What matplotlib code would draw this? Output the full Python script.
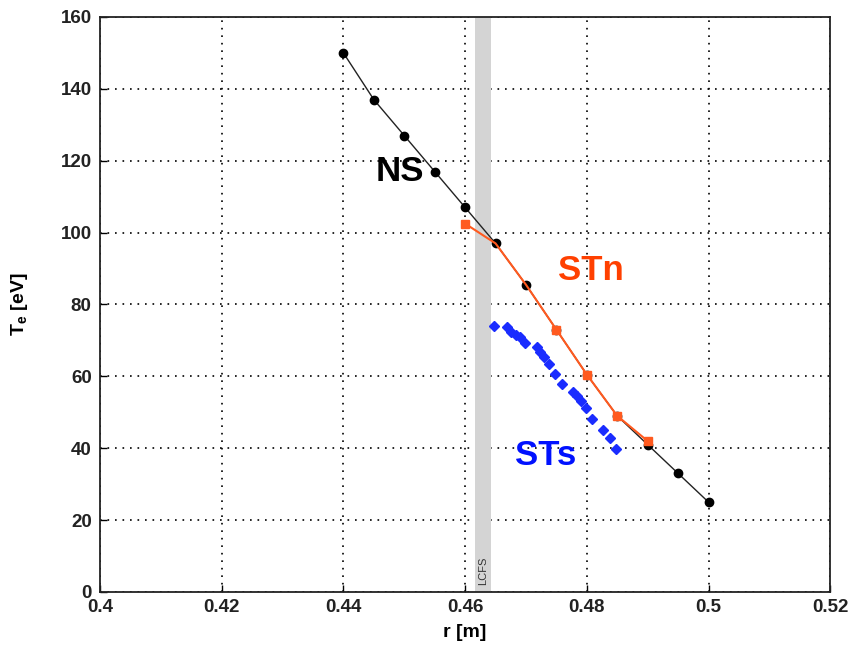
import numpy as np
import matplotlib.pyplot as plt

plt.rcParams['font.family'] = ['Liberation Sans', 'DejaVu Sans']

# NS profile (black circles)
ns_r = [0.44, 0.445, 0.45, 0.455, 0.46, 0.465, 0.47, 0.475, 0.48, 0.485, 0.49, 0.495, 0.50]
ns_te = [150, 137, 127, 117, 107, 97, 85.5, 73, 60.5, 49, 41, 33, 25]

# STn profile (orange squares)
stn_r = [0.46, 0.465, 0.47, 0.475, 0.48, 0.485, 0.49]
stn_te = [102.5, 97, 85.5, 73, 60.5, 49, 42]

# STs profile (blue diamonds)
sts_r = [0.4648, 0.4669, 0.4676, 0.4684, 0.4690, 0.4699, 0.4718, 0.4723, 0.4729, 0.4738,
         0.4748, 0.4759, 0.4777, 0.4784, 0.4790, 0.4798, 0.4809, 0.4827, 0.4838, 0.4848]
sts_te = [74.0, 73.6, 72.4, 71.5, 70.9, 69.2, 68.3, 66.9, 65.5, 63.4,
          60.7, 57.9, 55.7, 54.5, 53.2, 51.1, 48.1, 45.1, 42.8, 39.7]

lcfs = (0.4616, 0.4643)

fig = plt.figure(figsize=(8.55, 6.56), dpi=100)
ax = fig.add_axes([0.117, 0.0976, 0.854, 0.8765])

ax.axvspan(lcfs[0], lcfs[1], color='#d4d4d4', lw=0, zorder=1)
ax.text(sum(lcfs) / 2, 2, 'LCFS', rotation=90, ha='center', va='bottom',
        fontsize=8, color='#333333', zorder=2)

ax.plot(ns_r, ns_te, '-', color='#222222', lw=1.0, marker='o', ms=6,
        mfc='black', mec='black', zorder=3)
ax.plot(stn_r, stn_te, '-', color='#ff5a1f', lw=1.5, marker='s', ms=6,
        mfc='#ff5a1f', mec='#ff5a1f', markevery=[0, 3, 4, 5, 6], zorder=4)
ax.plot(sts_r, sts_te, 'D', color='#1a2cff', ms=5, mec='#1a2cff', zorder=4)

ax.text(0.4493, 117, 'NS', fontsize=25, fontweight='bold', color='black',
        ha='center', va='center', zorder=5)
ax.text(0.4806, 89.5, 'STn', fontsize=25, fontweight='bold', color='#ff4000',
        ha='center', va='center', zorder=5)
ax.text(0.4732, 38, 'STs', fontsize=25, fontweight='bold', color='#0011ff',
        ha='center', va='center', zorder=5)

ax.set_xlim(0.4, 0.52)
ax.set_ylim(0, 160)
ax.set_xticks(np.arange(0.4, 0.5201, 0.02))
ax.set_xticklabels(['0.4', '0.42', '0.44', '0.46', '0.48', '0.5', '0.52'])
ax.set_yticks(np.arange(0, 161, 20))
ax.grid(True, linestyle=(0, (1, 3.5)), color='black', lw=1.2, zorder=0)
ax.set_axisbelow(True)
ax.tick_params(direction='in', length=5, width=1, labelsize=13.5,
               top=False, right=False)
ax.tick_params(axis='x', pad=5)
ax.tick_params(axis='y', pad=6)
for lbl in ax.get_xticklabels() + ax.get_yticklabels():
    lbl.set_fontweight('bold')
    lbl.set_color('#222222')
for sp in ax.spines.values():
    sp.set_linewidth(1.3)
    sp.set_color('#222222')

ax.set_xlabel('r [m]', fontsize=14, fontweight='bold', labelpad=6)
ax.set_ylabel(r'T$_\mathregular{e}$ [eV]', fontsize=14, fontweight='bold', labelpad=22)

fig.savefig('out.png', dpi=100)
